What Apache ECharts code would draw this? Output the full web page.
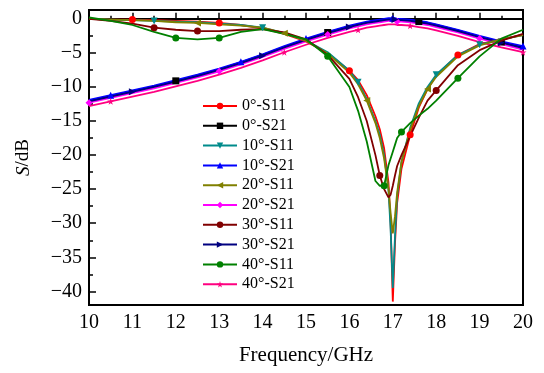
<!DOCTYPE html>
<html><head><meta charset="utf-8">
<script src="https://cdn.jsdelivr.net/npm/echarts@6/dist/echarts.min.js"></script>
<style>html,body{margin:0;padding:0;background:#fff}#c{width:544px;height:373px}</style>
</head><body><div id="c"></div>
<script>
const freq = [10,10.5,11,11.5,12,12.5,13,13.5,14,14.5,15,15.5,16,16.2,16.4,16.6,16.7,16.8,16.9,16.95,17.0,17.05,17.1,17.2,17.4,17.6,17.8,18,18.5,19,19.5,20];
const xTicks = [10,11,12,13,14,15,16,17,18,19,20];
const yTicks = [0,-5,-10,-15,-20,-25,-30,-35,-40];
const yMinorTicks = [-2.5,-7.5,-12.5,-17.5,-22.5,-27.5,-32.5,-37.5];

const s11_0  = [0,-0.1,-0.1,-0.2,-0.3,-0.4,-0.6,-0.9,-1.4,-2.2,-3.3,-5.0,-7.6,-9.0,-11.2,-14.3,-16.2,-19.0,-24.0,-30.0,-41.5,-33.0,-27.0,-22.0,-17.0,-13.0,-10.3,-8.3,-5.3,-3.7,-3.0,-2.3];
const s21_0  = [-12.0,-11.3,-10.6,-9.9,-9.1,-8.3,-7.4,-6.4,-5.3,-4.1,-3.0,-2.0,-1.1,-0.8,-0.5,-0.3,-0.2,-0.1,0,0,0,0,-0.1,-0.1,-0.2,-0.4,-0.6,-0.9,-1.7,-2.6,-3.4,-4.2];
const s11_10 = [0,-0.1,-0.2,-0.3,-0.4,-0.5,-0.7,-0.9,-1.3,-2.1,-3.2,-4.9,-7.6,-9.3,-11.8,-15.0,-17.0,-20.0,-25.0,-31.0,-39.5,-32.0,-26.0,-21.0,-16.0,-12.4,-10.0,-8.2,-5.3,-3.8,-3.0,-2.4];
const s21_10 = [-11.9,-11.2,-10.5,-9.8,-9.0,-8.2,-7.3,-6.3,-5.2,-4.0,-2.9,-1.9,-1.0,-0.7,-0.4,-0.2,-0.1,0,0.1,0.1,0.1,0.1,0,0,-0.1,-0.3,-0.5,-0.8,-1.6,-2.5,-3.3,-4.0];
const s11_20 = [0,-0.1,-0.2,-0.3,-0.5,-0.6,-0.8,-1.0,-1.3,-2.1,-3.2,-5.1,-7.9,-9.6,-12.0,-15.3,-17.5,-20.5,-25.0,-28.5,-31.5,-29.0,-25.5,-21.0,-16.3,-12.8,-10.3,-8.5,-5.5,-3.9,-3.0,-2.4];
const s21_20 = [-12.3,-11.6,-10.9,-10.2,-9.4,-8.6,-7.7,-6.7,-5.6,-4.4,-3.3,-2.3,-1.4,-1.1,-0.8,-0.6,-0.5,-0.4,-0.3,-0.3,-0.3,-0.3,-0.4,-0.4,-0.5,-0.7,-0.9,-1.2,-2.0,-2.9,-3.7,-4.5];
const s11_30 = [0,-0.3,-0.7,-1.3,-1.6,-1.8,-1.8,-1.6,-1.5,-2.0,-3.0,-5.3,-8.8,-11.5,-15.0,-20.0,-23.0,-25.0,-26.2,-25.8,-24.5,-23.0,-21.6,-20.0,-17.2,-14.5,-12.0,-10.5,-6.8,-4.6,-3.2,-2.2];
const s21_30 = [-12.1,-11.4,-10.7,-10.0,-9.2,-8.4,-7.5,-6.5,-5.4,-4.2,-3.1,-2.1,-1.2,-0.9,-0.6,-0.4,-0.3,-0.2,-0.1,-0.1,-0.1,-0.1,-0.2,-0.2,-0.3,-0.5,-0.7,-1.0,-1.8,-2.7,-3.5,-4.3];
const s11_40 = [0.2,-0.3,-0.9,-1.9,-2.8,-3.0,-2.8,-1.9,-1.5,-2.2,-3.0,-5.5,-10.0,-13.5,-18.0,-23.8,-24.5,-24.5,-21.5,-20.5,-19.5,-18.5,-17.5,-16.6,-15.3,-14.2,-13.2,-12.0,-8.7,-5.5,-2.9,-1.6];
const s21_40 = [-12.8,-12.1,-11.4,-10.7,-9.9,-9.1,-8.2,-7.2,-6.1,-4.9,-3.8,-2.8,-1.9,-1.6,-1.3,-1.1,-1.0,-0.9,-0.8,-0.8,-0.8,-0.8,-0.9,-0.9,-1.0,-1.2,-1.4,-1.7,-2.5,-3.4,-4.2,-4.9];

const names = ['0°-S11','0°-S21','10°-S11','10°-S21','20°-S11','20°-S21','30°-S11','30°-S21','40°-S11','40°-S21'];
const values = [s11_0,s21_0,s11_10,s21_10,s11_20,s21_20,s11_30,s21_30,s11_40,s21_40];
const colors = ['#ff0000','#000000','#008b8b','#0000ff','#808000','#ff00ff','#800000','#000080','#008000','#ff0080'];
const star = 'path://M50,0 L61,35 L98,35 L68,57 L79,91 L50,70 L21,91 L32,57 L2,35 L39,35 Z';
const symbols = ['circle','rect','triangle','triangle','triangle','diamond','circle','triangle','circle',star];
const rotates = [0,0,180,0,90,0,0,-90,0,0];

const font = 'Liberation Serif, Times New Roman, serif';
const markerIdx = [[2,6,12,24,28],[4,11,25,30],[3,8,13,27,29],[1,7,10,20,31],[5,9,14,26],[0,6,11,22,29],[3,5,16,27],[2,8,12,21,30],[4,6,11,17,23,28],[1,9,13,24,31]];

const series = names.map((n,i)=>({
  name:n, type:'line', color:colors[i],
  symbol:symbols[i], symbolRotate:rotates[i], symbolSize:7,
  showAllSymbol:true,
  lineStyle:{width:1.8,color:colors[i]},
  itemStyle:{color:colors[i]},
  data: freq.map((f,k)=>({value:[f,values[i][k]], symbolSize: markerIdx[i].includes(k)?7:0})),
  animation:false, z: i%2===0?3:2
}));

const chart = echarts.init(document.getElementById('c'),null,{renderer:'canvas'});
const minus = v => String(v).replace('-','\u2212');
chart.setOption({
  backgroundColor:'#fff',
  animation:false,
  grid:{left:89,right:21,top:10,bottom:68,show:true,borderColor:'#000',borderWidth:2,backgroundColor:'transparent'},
  legend:{
    orient:'vertical', left:197, top:93, itemWidth:34, itemHeight:8, itemGap:3.8,
    textStyle:{fontFamily:font,fontSize:16,color:'#000',lineHeight:16},
    data:names.map((n,i)=>({name:n}))
  },
  xAxis:{
    type:'value', min:10, max:20, interval:1,
    name:'Frequency/GHz', nameLocation:'middle', nameGap:40,
    nameTextStyle:{fontFamily:font,fontSize:21,color:'#000'},
    axisLine:{lineStyle:{color:'#000',width:2}},
    axisTick:{inside:true,length:6,lineStyle:{color:'#000',width:1.5}},
    minorTick:{show:true,splitNumber:2,length:3,lineStyle:{color:'#000',width:1.5}},
    splitLine:{show:false},
    axisLabel:{fontFamily:font,fontSize:20,color:'#000',margin:8}
  },
  yAxis:[{
    type:'value', min:-42, max:1.3,
    name:'{i|S}/dB', nameLocation:'middle', nameGap:56,
    nameTextStyle:{fontFamily:font,fontSize:19,color:'#000',rich:{i:{fontStyle:'italic',fontFamily:font,fontSize:19}}},
    axisLine:{lineStyle:{color:'#000',width:2}},
    axisTick:{inside:true,length:7,customValues:yTicks,lineStyle:{color:'#000',width:1.5}},
    splitLine:{show:false},
    axisLabel:{fontFamily:font,fontSize:20,color:'#000',margin:7,customValues:yTicks,formatter:minus}
  },{
    type:'value', min:-42, max:1.3, position:'left',
    axisLine:{show:false},
    axisTick:{inside:true,length:4,customValues:yMinorTicks,lineStyle:{color:'#000',width:1.5}},
    axisLabel:{show:false,customValues:yMinorTicks},
    splitLine:{show:false}
  }],
  series: series
});
</script></body></html>
